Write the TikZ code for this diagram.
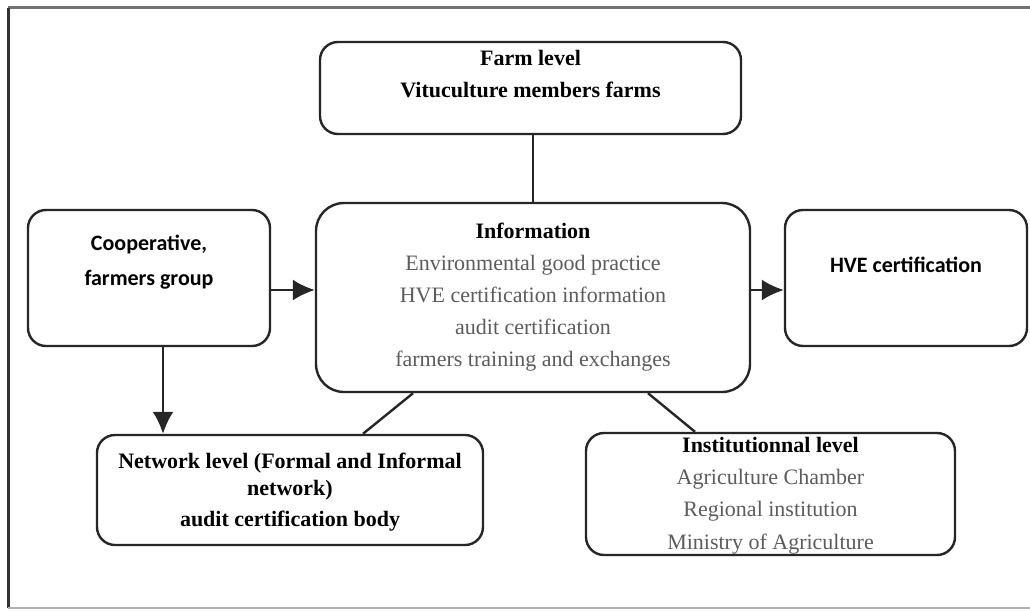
\documentclass[tikz,border=0pt]{standalone}
\usepackage{fontspec}
\setmainfont{Liberation Serif}
\newfontfamily\calibfont{Carlito}
\usetikzlibrary{arrows.meta}
\definecolor{txtgray}{gray}{0.36}
\begin{document}
\begin{tikzpicture}[x=1pt,y=-1pt,
  box/.style={draw=black!85, line width=2.4pt, rounded corners=18pt, inner sep=0pt},
  tx/.style={align=center, inner sep=0pt, font=\fontsize{22}{32}\selectfont},
  sans/.style={align=center, inner sep=0pt, font=\fontsize{22}{35}\selectfont\calibfont\bfseries},
  conn/.style={draw=black!85, line width=2.4pt},
  arr/.style={conn, -{Latex[length=22pt,width=21pt]}}]
\useasboundingbox (0,0) rectangle (1030,610);
\fill[white] (0,0) rectangle (1030,610);
% outer frame
\draw[black!55, line width=3pt] (8,8) -- (1030,8);
\draw[black!80, line width=3pt] (8,8) -- (8,608);
\draw[black!30, line width=2pt] (8,608) -- (1030,608);
% boxes
\node[box, minimum width=421pt, minimum height=92pt] (farm) at (530.5,88) {};
\node[box, minimum width=242pt, minimum height=136pt] (coop) at (149,278) {};
\node[box, minimum width=434pt, minimum height=189pt, rounded corners=28pt] (info) at (533,297.5) {};
\node[box, minimum width=242pt, minimum height=136pt] (hve) at (906,278) {};
\node[box, minimum width=386pt, minimum height=110pt] (net) at (290,490) {};
\node[box, minimum width=369pt, minimum height=122pt] (inst) at (770.5,494) {};
% texts
\node[tx, font=\fontsize{22}{32}\selectfont\bfseries] (farmt) at (530.5,74) {Farm level\\Vituculture members farms};
\node[sans] (coopt) at (149,262.5) {Cooperative,\\farmers group};
\node[tx] (infot) at (533,297.5) {\textbf{Information}\\\color{txtgray}Environmental good practice\\\color{txtgray}HVE certification information\\\color{txtgray}audit certification\\\color{txtgray}farmers training and exchanges};
\node[sans] (hvet) at (906,265) {HVE certification};
\node[tx, font=\fontsize{22}{27}\selectfont\bfseries] (nett) at (290,492) {Network level (Formal and Informal\\network)\\[4pt]audit certification body};
\node[tx, font=\fontsize{22}{32.3}\selectfont] (instt) at (770.5,495.5) {\textbf{Institutionnal level}\\\color{txtgray}Agriculture Chamber\\\color{txtgray}Regional institution\\\color{txtgray}Ministry of Agriculture};
% connectors
\draw[conn] (farm.south -| info.north) -- (info.north);
\coordinate (arrowy) at (0,290);
\draw[arr] (coop.east |- arrowy) -- (info.west |- arrowy);
\draw[arr] (info.east |- arrowy) -- (hve.west |- arrowy);
\coordinate (downx) at (163,0);
\draw[arr] (coop.south -| downx) -- (net.north -| downx);
\coordinate (nl1) at (413,0);
\coordinate (nl2) at (363,0);
\draw[conn] (info.south -| nl1) -- (net.north -| nl2);
\coordinate (il1) at (648,0);
\coordinate (il2) at (695,0);
\draw[conn] (info.south -| il1) -- (inst.north -| il2);
\end{tikzpicture}
\end{document}
